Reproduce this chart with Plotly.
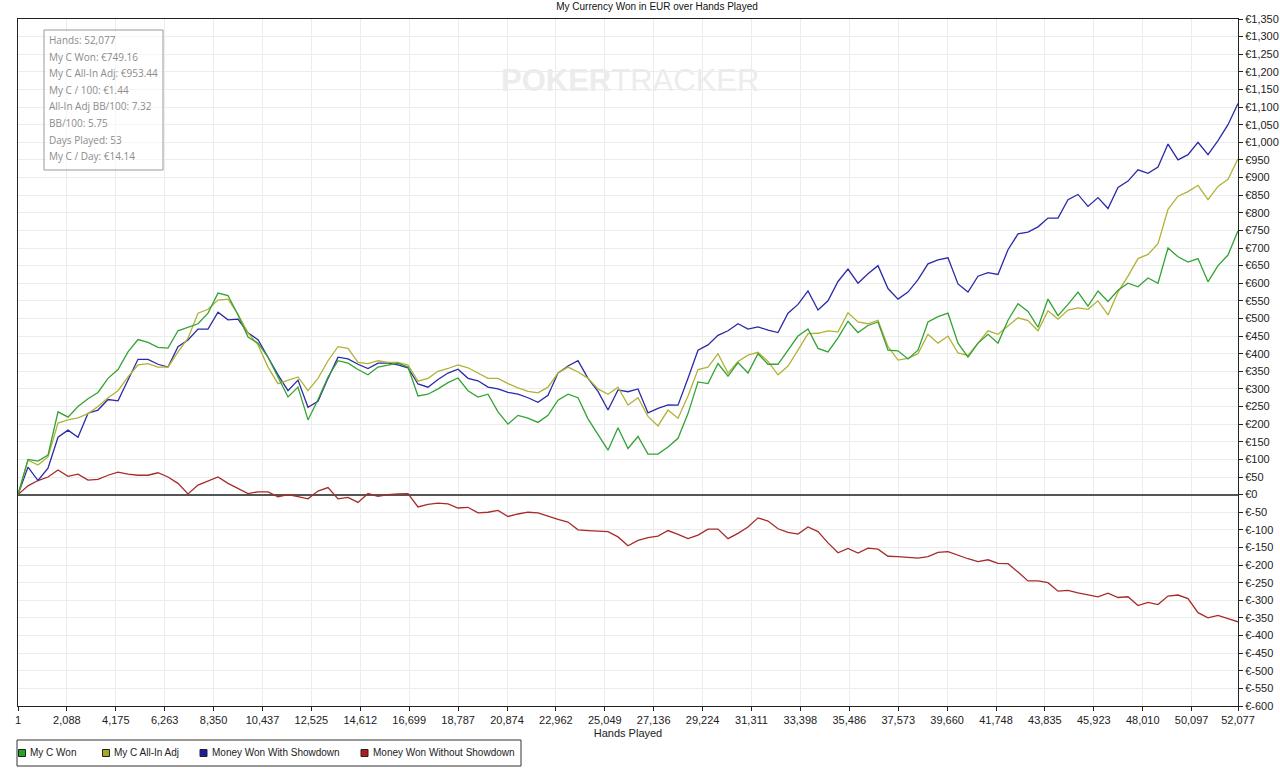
import numpy as np
import plotly.graph_objects as go

# hands played at each sampled point (52,077 hands, 123 samples)
hands = np.linspace(1, 52077, 123)

my_c_won = [
    0, 100, 95, 112, 235, 220, 250, 272, 290, 330,
    355, 405, 440, 432, 418, 416, 465, 476, 485, 515,
    572, 565, 510, 447, 430, 390, 335, 277, 305, 212,
    270, 334, 380, 373, 355, 340, 362, 368, 373, 362,
    280, 285, 300, 318, 331, 295, 277, 285, 235, 200,
    225, 217, 205, 225, 268, 285, 275, 215, 170, 126,
    190, 131, 165, 115, 115, 135, 160, 230, 320, 315,
    372, 336, 375, 345, 400, 370, 370, 410, 450, 470,
    415, 405, 445, 492, 460, 480, 490, 410, 408, 385,
    410, 490, 505, 515, 430, 390, 430, 455, 430, 495,
    542, 520, 475, 555, 508, 540, 575, 535, 578, 548,
    580, 600, 590, 615, 600, 700, 675, 660, 670, 604,
    650, 680, 749.16,
]

all_in_adj = [
    0, 98, 84, 107, 203, 212, 218, 230, 250, 275,
    295, 334, 368, 372, 362, 362, 405, 444, 515, 526,
    552, 555, 512, 459, 425, 362, 315, 325, 334, 295,
    330, 380, 420, 415, 375, 372, 380, 375, 375, 368,
    322, 330, 350, 358, 368, 360, 346, 330, 330, 315,
    303, 293, 289, 305, 345, 362, 348, 330, 300, 285,
    305, 254, 275, 222, 195, 240, 217, 280, 355, 362,
    400, 345, 378, 396, 404, 378, 340, 365, 410, 457,
    458, 465, 462, 516, 490, 485, 495, 420, 382, 387,
    400, 455, 430, 450, 402, 395, 430, 465, 455, 478,
    502, 494, 465, 522, 498, 524, 530, 526, 550, 510,
    575, 620, 670, 682, 712, 810, 847, 860, 878, 837,
    875, 895, 953.44,
]

with_showdown = [
    0, 78, 40, 75, 163, 183, 163, 231, 240, 270,
    266, 325, 384, 384, 370, 362, 420, 439, 470, 470,
    518, 496, 498, 459, 440, 390, 340, 295, 325, 248,
    265, 330, 390, 385, 370, 358, 373, 373, 368, 360,
    314, 305, 327, 345, 356, 330, 323, 305, 300, 290,
    285, 275, 262, 282, 345, 365, 380, 330, 293, 240,
    297, 292, 300, 232, 245, 255, 254, 330, 410, 425,
    452, 465, 485, 470, 476, 467, 460, 515, 540, 578,
    524, 550, 605, 640, 600, 627, 650, 585, 555, 575,
    610, 655, 666, 672, 598, 575, 620, 630, 625, 695,
    740, 745, 760, 785, 785, 837, 852, 818, 843, 812,
    872, 890, 922, 912, 930, 995, 950, 965, 1000, 965,
    1005, 1050, 1110,
]

without_showdown = [
    0, 25, 40, 50, 70, 52, 58, 41, 43, 55,
    64, 58, 55, 55, 62, 50, 32, 2, 27, 38,
    50, 32, 18, 3, 8, 8, -6, 0, -6, -12,
    10, 20, -12, -8, -22, 3, -5, 0, 2, 3,
    -35, -28, -24, -26, -38, -36, -52, -50, -45, -62,
    -55, -50, -52, -62, -70, -78, -100, -102, -103, -105,
    -120, -145, -130, -122, -118, -102, -113, -125, -115, -98,
    -98, -125, -110, -92, -66, -75, -97, -107, -112, -92,
    -105, -137, -165, -153, -166, -152, -155, -175, -176, -179,
    -180, -176, -164, -162, -173, -182, -190, -185, -195, -196,
    -220, -245, -245, -250, -274, -272, -279, -284, -290, -280,
    -292, -290, -315, -306, -312, -288, -285, -295, -335, -350,
    -343, -352, -361,
]

series_names = ["My C Won", "My C All-In Adj", "Money Won With Showdown", "Money Won Without Showdown"]
series_colors = ["#34a234", "#b2b236", "#2a2aa6", "#a82a2a"]
legend_colors = ["#1fa81f", "#a8a820", "#1c1ca8", "#b01c1c"]

x_ticks = [1, 2088, 4175, 6263, 8350, 10437, 12525, 14612, 16699, 18787, 20874, 22962, 25049,
           27136, 29224, 31311, 33398, 35486, 37573, 39660, 41748, 43835, 45923, 48010, 50097, 52077]
y_ticks = list(range(-600, 1351, 50))

stats_lines = [
    "Hands: 52,077",
    "My C Won: €749.16",
    "My C All-In Adj: €953.44",
    "My C / 100: €1.44",
    "All-In Adj BB/100: 7.32",
    "BB/100: 5.75",
    "Days Played: 53",
    "My C / Day: €14.14",
]

W, H = 1280, 771
L, R, T, B = 18, 42, 19, 65
pw, ph = W - L - R, H - T - B


def px_x(x):
    return (x - L) / pw


def px_y(y):
    return (H - B - y) / ph


fig = go.Figure()

# lines (drawn in reverse so green sits on top like the original)
for name, vals, col in list(zip(series_names, [my_c_won, all_in_adj, with_showdown, without_showdown], series_colors))[::-1]:
    fig.add_trace(go.Scatter(x=hands, y=vals, mode="lines", name=name,
                             line=dict(color=col, width=1.3), showlegend=False))

# stats box
fig.add_shape(type="rect", xref="paper", yref="paper",
              x0=px_x(44), x1=px_x(163), y0=px_y(170), y1=px_y(30),
              line=dict(color="#999", width=1), fillcolor="rgba(255,255,255,0.6)")
for i, line in enumerate(stats_lines):
    fig.add_annotation(x=px_x(47), y=px_y(40 + 16.6 * i), xref="paper", yref="paper",
                       text=line, showarrow=False, xanchor="left", yanchor="middle",
                       font=dict(family="Open Sans, Noto Sans", size=10, color="#8c8c8c"))

# watermark
fig.add_annotation(x=px_x(630), y=px_y(61), xref="paper", yref="paper",
                   text="<b>POKER</b>TRACKER", showarrow=False,
                   font=dict(family="Liberation Sans, Arial", size=31, color="#ececec"))

# legend box drawn below the plot, square swatches like the original
fig.add_shape(type="rect", xref="paper", yref="paper",
              x0=px_x(17), x1=px_x(521), y0=px_y(766), y1=px_y(740),
              line=dict(color="#333", width=1), fillcolor="white")
swatch_x = [22, 106, 203.5, 364.5]
for name, col, sx in zip(series_names, legend_colors, swatch_x):
    fig.add_shape(type="rect", xref="paper", yref="paper",
                  x0=px_x(sx - 3.5), x1=px_x(sx + 3.5), y0=px_y(756.5), y1=px_y(749.5),
                  line=dict(color="#222", width=1), fillcolor=col)
    fig.add_annotation(x=px_x(sx + 6), y=px_y(753), xref="paper", yref="paper",
                       text=name, showarrow=False, xanchor="left", yanchor="middle",
                       font=dict(family="Liberation Sans, Arial", size=10, color="#222"))

fig.update_layout(
    width=W, height=H,
    margin=dict(l=L, r=R, t=T, b=B),
    paper_bgcolor="white", plot_bgcolor="white",
    title=dict(text="My Currency Won in EUR over Hands Played", x=657 / W, xref="container",
               xanchor="center", y=1 - 6 / H, yref="container", yanchor="middle",
               font=dict(family="Liberation Sans, Arial", size=10, color="#111")),
    font=dict(family="Liberation Sans, Arial", size=11, color="#222"),
    showlegend=False,
    xaxis=dict(range=[1, 52077], tickvals=x_ticks, ticktext=[f"{v:,}" for v in x_ticks],
               showgrid=True, gridcolor="#ececec", gridwidth=1,
               showline=True, linecolor="#222", linewidth=1, mirror=True,
               ticks="outside", ticklen=4, tickcolor="#222", zeroline=False,
               title=dict(text="Hands Played", standoff=4, font=dict(size=11)),
               automargin=False),
    yaxis=dict(range=[-600, 1350], side="right", tickvals=y_ticks,
               ticktext=[f"€{v:,}" for v in y_ticks],
               showgrid=True, gridcolor="#ececec", gridwidth=1,
               showline=True, linecolor="#222", linewidth=1, mirror=True,
               ticks="outside", ticklen=4, tickcolor="#222",
               zeroline=True, zerolinecolor="#555", zerolinewidth=2,
               automargin=False),
)

# drop the page's default 8px body margin so the figure fills the window
fig.write_html("out.html", config={"displayModeBar": False},
               post_script="document.body.style.margin='0';document.body.style.overflow='hidden';")
